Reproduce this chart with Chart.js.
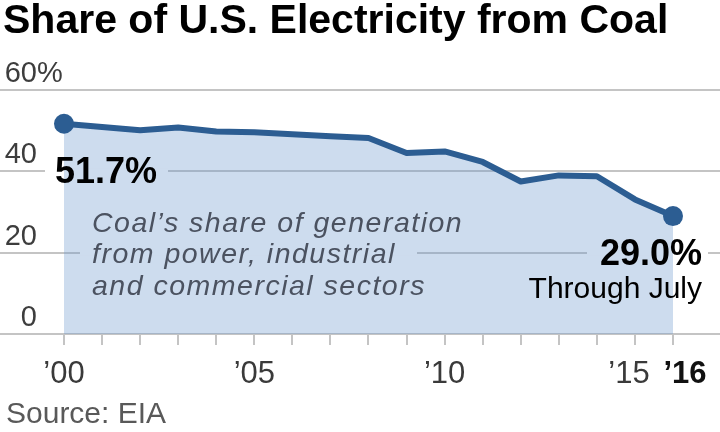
<!DOCTYPE html>
<html>
<head>
<meta charset="utf-8">
<script src="https://cdn.jsdelivr.net/npm/chart.js@4.4.1/dist/chart.umd.min.js"></script>
<style>
  html, body { margin: 0; padding: 0; background: #fff; }
  #wrap { width: 720px; height: 432px; position: relative; }
</style>
</head>
<body>
<div id="wrap"><canvas id="c" width="720" height="432"></canvas></div>
<script>
// ---- data ----
const years = [2000, 2001, 2002, 2003, 2004, 2005, 2006, 2007, 2008, 2009, 2010, 2011, 2012, 2013, 2014, 2015, 2016];
const coalShare = [51.7, 50.9, 50.1, 50.8, 49.8, 49.6, 49.1, 48.6, 48.2, 44.5, 44.9, 42.3, 37.5, 39.0, 38.8, 33.1, 29.0];
const yTickValues = [0, 20, 40, 60];
const yTickLabels = ['0', '20', '40', '60'];
const xLabelYears = [2000, 2005, 2010, 2015, 2016];
const xLabelTexts = ['\u201900', '\u201905', '\u201910', '\u201915', '\u201916'];
const titleText = 'Share of U.S. Electricity from Coal';
const noteLines = ['Coal\u2019s share of generation', 'from power, industrial', 'and commercial sectors'];
const firstLabel = '51.7%';
const lastLabel = '29.0%';
const lastSub = 'Through July';
const sourceText = 'Source: EIA';

// ---- styling ----
const LINE = '#2c5d92';
const FILL = 'rgba(112,155,206,0.35)';
const FILL_SOLID = 'rgb(205,220,238)';
const GRID = '#c4c4c4';
const FONT = 'Arial, "Liberation Sans", Helvetica, sans-serif';
const xMin = 1998.3186, xMax = 2017.2348;

const points = years.map((y, i) => ({ x: y, y: coalShare[i] }));
const lastIdx = points.length - 1;

const annot = {
  id: 'annot',
  afterDatasetsDraw(chart) {
    const { ctx } = chart;
    const xs = chart.scales.x, ys = chart.scales.y;
    const x0 = xs.getPixelForValue(years[0]);
    const xN = xs.getPixelForValue(years[lastIdx]);
    const y40 = ys.getPixelForValue(40);
    const y20 = ys.getPixelForValue(20);
    ctx.save();
    // mask grid line segments behind labels
    function mask(a, b, y) {
      const h = 5;
      if (a < x0) { ctx.fillStyle = '#fff'; ctx.fillRect(a, y - h / 2, Math.min(b, x0) - a, h); }
      const s = Math.max(a, x0), e = Math.min(b, xN);
      if (e > s) { ctx.fillStyle = FILL_SOLID; ctx.fillRect(s, y - h / 2, e - s, h); }
      if (b > xN) { ctx.fillStyle = '#fff'; ctx.fillRect(Math.max(a, xN), y - h / 2, b - Math.max(a, xN), h); }
    }
    mask(x0 - 19, x0 + 104, y40);
    mask(x0 + 16, x0 + 353, y20);
    mask(xN - 86, xN + 35, y20);

    // first-value label
    ctx.fillStyle = '#000';
    ctx.textBaseline = 'alphabetic';
    ctx.textAlign = 'left';
    ctx.font = 'bold 36px ' + FONT;
    ctx.fillText(firstLabel, x0 - 9, y40 + 12);

    // last-value label
    ctx.textAlign = 'right';
    ctx.fillText(lastLabel, xN + 29, y20 + 12);
    ctx.font = '30px ' + FONT;
    ctx.fillText(lastSub, xN + 29, y20 + 45);

    // note
    ctx.textAlign = 'left';
    ctx.fillStyle = '#4b5260';
    ctx.font = 'italic 28.5px ' + FONT;
    try { ctx.letterSpacing = '1.5px'; } catch (e) {}
    noteLines.forEach((t, i) => ctx.fillText(t, x0 + 28, y20 - 21 + i * 31.5));
    try { ctx.letterSpacing = '0px'; } catch (e) {}
    ctx.restore();
  },
  afterDraw(chart) {
    const { ctx } = chart;
    const xs = chart.scales.x, ys = chart.scales.y;
    ctx.save();
    // title
    ctx.fillStyle = '#000';
    ctx.textBaseline = 'alphabetic';
    ctx.textAlign = 'left';
    ctx.font = 'bold 41px ' + FONT;
    ctx.fillText(titleText, 3, 33);

    // y tick labels
    ctx.font = '29px ' + FONT;
    ctx.fillStyle = '#3d3d3d';
    yTickValues.forEach((v, i) => {
      const y = ys.getPixelForValue(v) - 8;
      ctx.textAlign = 'right';
      ctx.fillText(yTickLabels[i], 37, y);
      if (i === yTickValues.length - 1) {
        ctx.textAlign = 'left';
        ctx.fillText('%', 37, y);
      }
    });

    // x labels
    const offsets = [0, 0, 0, -6, 12];
    xLabelYears.forEach((yr, i) => {
      const last = i === xLabelYears.length - 1;
      ctx.font = (last ? 'bold ' : '') + '31px ' + FONT;
      ctx.fillStyle = last ? '#111' : '#3a3a3a';
      ctx.textAlign = 'center';
      ctx.fillText(xLabelTexts[i], xs.getPixelForValue(yr) + offsets[i], 383);
    });

    // source
    ctx.textAlign = 'left';
    ctx.font = '30px ' + FONT;
    ctx.fillStyle = '#595959';
    ctx.fillText(sourceText, 6, 423);
    ctx.restore();
  }
};

new Chart(document.getElementById('c'), {
  type: 'line',
  data: {
    datasets: [{
      data: points,
      borderColor: LINE,
      borderWidth: 6,
      borderJoinStyle: 'round',
      borderCapStyle: 'round',
      backgroundColor: FILL,
      fill: 'origin',
      tension: 0,
      pointRadius: ctx => (ctx.dataIndex === 0 || ctx.dataIndex === lastIdx) ? 10 : 0,
      pointBackgroundColor: LINE,
      pointBorderWidth: 0,
      pointHoverRadius: 0
    }]
  },
  options: {
    responsive: false,
    animation: false,
    devicePixelRatio: 1,
    layout: { autoPadding: false, padding: { top: 90, left: 0, right: 0, bottom: 0 } },
    plugins: { legend: { display: false }, tooltip: { enabled: false }, title: { display: false } },
    scales: {
      x: {
        type: 'linear',
        min: xMin,
        max: xMax,
        afterBuildTicks: s => { s.ticks = years.map(v => ({ value: v })); },
        afterFit: s => { s.height = 98; },
        grid: { display: true, drawOnChartArea: false, drawTicks: true, tickLength: 11, color: GRID, lineWidth: 2 },
        border: { display: true, color: GRID, width: 2 },
        ticks: { display: false }
      },
      y: {
        min: 0,
        max: 60,
        afterBuildTicks: s => { s.ticks = yTickValues.map(v => ({ value: v })); },
        afterFit: s => { s.width = 0; },
        grid: { color: GRID, lineWidth: 2, drawTicks: false },
        border: { display: false },
        ticks: { display: false }
      }
    }
  },
  plugins: [annot]
});
</script>
</body>
</html>
